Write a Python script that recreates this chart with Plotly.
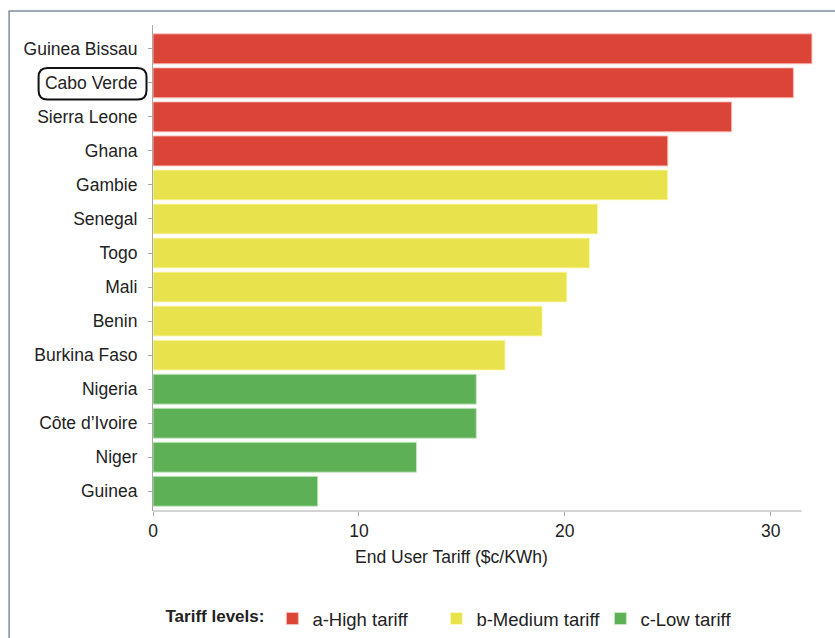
import plotly.graph_objects as go

# End user electricity tariffs (US cents per kWh), grouped by tariff level
high_countries = ["Guinea Bissau", "Cabo Verde", "Sierra Leone", "Ghana"]
high_values = [32.0, 31.1, 28.1, 25.0]

medium_countries = ["Gambie", "Senegal", "Togo", "Mali", "Benin", "Burkina Faso"]
medium_values = [25.0, 21.6, 21.2, 20.1, 18.9, 17.1]

low_countries = ["Nigeria", "Côte d’Ivoire", "Niger", "Guinea"]
low_values = [15.7, 15.7, 12.8, 8.0]

x_ticks = [0, 10, 20, 30]
x_title = "End User Tariff ($c/KWh)"
legend_title = "Tariff levels:"
highlighted = "Cabo Verde"

# category order from bottom to top
order = (high_countries + medium_countries + low_countries)[::-1]

W, H = 835, 638
L, R, T, B = 152.5, 21, 25, 127
PW, PH = W - L - R, H - T - B

def px2x(px):
    return (px - L) / PW

def py2y(py):
    return (H - B - py) / PH

FONT = "Liberation Sans, Arial, Helvetica, sans-serif"
TXT = "#222222"

groups = [
    ("a-High tariff", high_countries, high_values, "#DB4538", "rgba(255,190,185,0.9)"),
    ("b-Medium tariff", medium_countries, medium_values, "#E8E34C", "rgba(255,250,190,0.9)"),
    ("c-Low tariff", low_countries, low_values, "#5EB056", "rgba(200,235,195,0.9)"),
]

fig = go.Figure()
for name, cats, vals, col, edge in groups:
    fig.add_trace(go.Bar(
        y=cats, x=vals, orientation="h", name=name,
        marker=dict(color=col, line=dict(color=edge, width=1)),
        width=0.88, hoverinfo="x+y",
    ))

shapes = [
    # bottom axis line (stops short of the longest bar)
    dict(type="line", xref="x", yref="paper", x0=0, x1=31.5, y0=0, y1=0,
         line=dict(color="#A8A8A8", width=1.2)),
    # outer frame, left and top edges
    dict(type="line", xref="paper", yref="paper", x0=px2x(8.5), x1=px2x(8.5),
         y0=py2y(11), y1=py2y(645), line=dict(color="#7F8C9D", width=1.5)),
    dict(type="line", xref="paper", yref="paper", x0=px2x(8), x1=px2x(840),
         y0=py2y(11), y1=py2y(11), line=dict(color="#7F8C9D", width=1.5)),
]

# rounded outline around the highlighted country label
bx0, bx1, by0, by1, rad = 38, 146, 68, 99.5, 9
rx, ry = rad / PW, rad / PH
X0, X1, Y0, Y1 = px2x(bx0), px2x(bx1), py2y(by1), py2y(by0)
path = (f"M {X0 + rx},{Y1} L {X1 - rx},{Y1} Q {X1},{Y1} {X1},{Y1 - ry} "
        f"L {X1},{Y0 + ry} Q {X1},{Y0} {X1 - rx},{Y0} "
        f"L {X0 + rx},{Y0} Q {X0},{Y0} {X0},{Y0 + ry} "
        f"L {X0},{Y1 - ry} Q {X0},{Y1} {X0 + rx},{Y1} Z")
shapes.append(dict(type="path", xref="paper", yref="paper", path=path,
                   line=dict(color="#111111", width=2)))

fig.update_layout(
    width=W, height=H,
    margin=dict(l=L, r=R, t=T, b=B, autoexpand=False),
    paper_bgcolor="white", plot_bgcolor="white",
    font=dict(family=FONT, size=17.5, color=TXT),
    barmode="overlay",
    showlegend=True,
    legend=dict(
        orientation="h", x=px2x(163), xanchor="left", y=py2y(619), yanchor="middle",
        font=dict(size=18.5, color=TXT),
        title=dict(text=f"<b>{legend_title}</b>", side="left",
                   font=dict(size=17, color=TXT)),
        traceorder="normal", entrywidth=119, entrywidthmode="pixels",
    ),
    xaxis=dict(
        range=[0, 32.1], tickvals=x_ticks, showgrid=False, zeroline=False,
        showline=False, ticks="outside", ticklen=4, tickcolor="#A8A8A8",
        tickfont=dict(size=17.5, color=TXT), fixedrange=True,
    ),
    yaxis=dict(
        type="category", categoryorder="array", categoryarray=order,
        range=[-0.58, 13.7], showgrid=False, zeroline=False,
        showline=True, linecolor="#A8A8A8", linewidth=1.2,
        ticks="outside", ticklen=4, tickcolor="#A8A8A8",
        ticklabelstandoff=7, tickfont=dict(size=17.5, color=TXT), fixedrange=True,
    ),
    shapes=shapes,
    annotations=[dict(
        text=x_title, xref="paper", yref="paper", x=px2x(451), y=py2y(557),
        xanchor="center", yanchor="middle", showarrow=False,
        font=dict(size=17.5, color=TXT),
    )],
)

fig.write_html("out.html")
